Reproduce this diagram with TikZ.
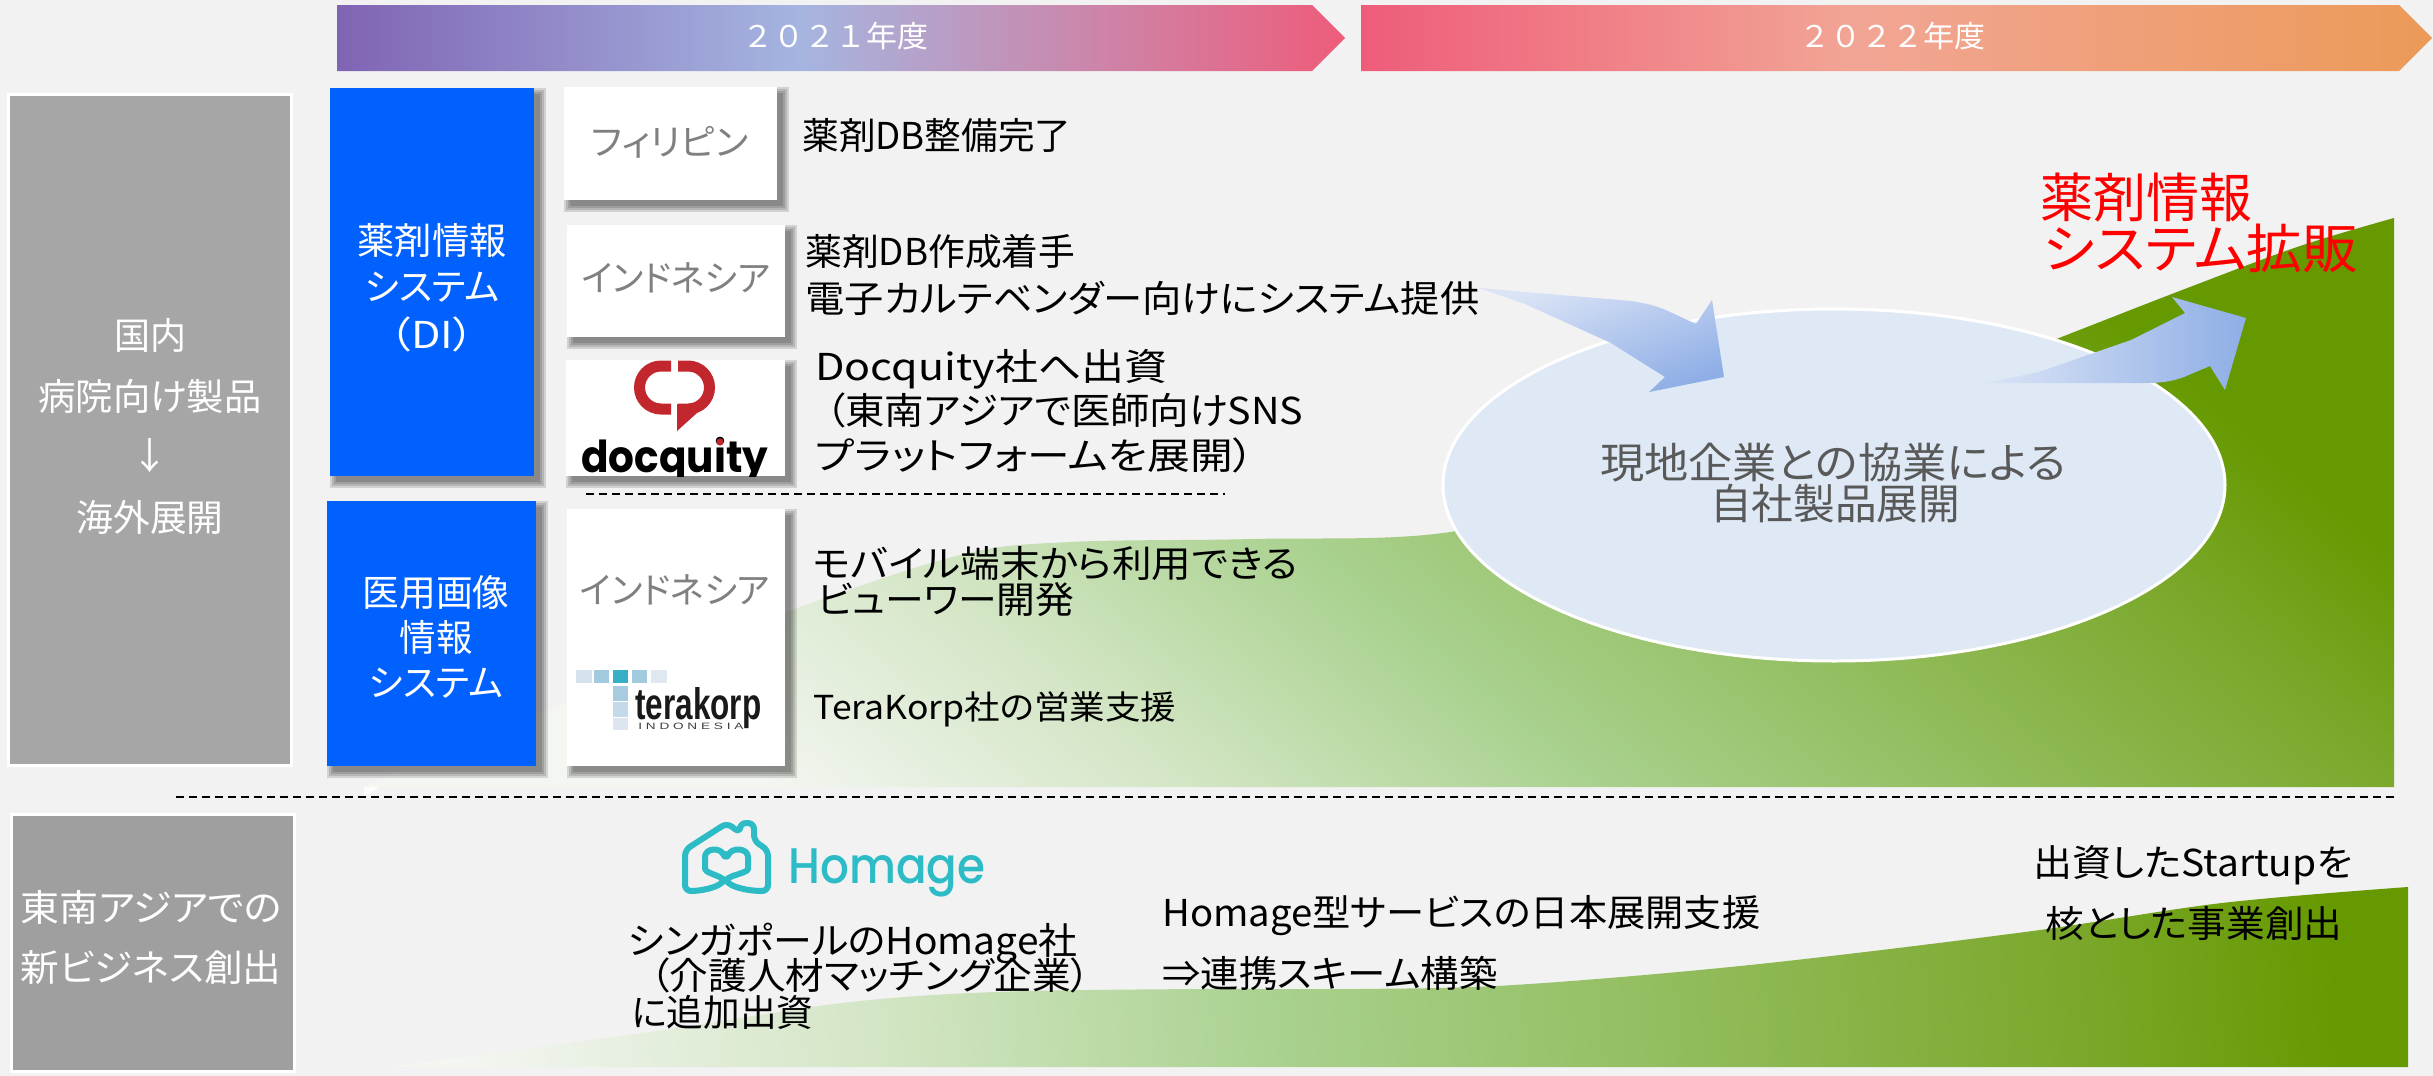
\documentclass[tikz,border=0pt]{standalone}
\usepackage{fontspec}
\usepackage{graphicx}
\usetikzlibrary{shapes.geometric}
\setmainfont{Noto Sans CJK JP}[RawFeature=+palt]
\newfontfamily\cjkfull{Noto Sans CJK JP}
\newfontfamily\popp{Poppins}[BoldFont={Poppins Bold}]
\newfontfamily\poppm{Poppins Medium}
\newfontfamily\libs{Liberation Sans}
\newlength\pxu
\setlength\pxu{0.5pt}
\newcommand\fw[2]{\resizebox{#1\pxu}{\height}{\rule[-.3em]{0pt}{1.36em}#2}}
\newcommand\softshadow[4]{%
  \foreach \g in {6,4,2,0}{\fill[black,opacity=.13] ({#1+6-\g},{#2+6-\g}) rectangle ({#3+6+\g},{#4+6+\g});}}
\definecolor{bgc}{HTML}{F2F2F2}
\definecolor{blueb}{HTML}{0061FF}
\definecolor{greyb}{HTML}{A6A6A6}
\definecolor{ellc}{HTML}{DEE9F5}
\definecolor{homc}{HTML}{2DBBC6}
\definecolor{docr}{HTML}{C1272D}
\definecolor{g0}{HTML}{F4F6F2}
\definecolor{g1}{HTML}{D4E6C6}
\definecolor{g2}{HTML}{A9D18E}
\definecolor{g25}{HTML}{7BA82B}
\definecolor{g3}{HTML}{669900}
\definecolor{p0}{HTML}{8064B4}
\definecolor{p1}{HTML}{A5B5E0}
\definecolor{p2}{HTML}{EE5C7A}
\definecolor{o0}{HTML}{EE5C7A}
\definecolor{o1}{HTML}{F2A595}
\definecolor{o2}{HTML}{EC9A58}
\definecolor{ar0}{HTML}{DBE4F6}
\definecolor{ar1}{HTML}{8EAEE6}
\definecolor{tk1}{HTML}{D6E3EF}
\definecolor{tk2}{HTML}{A3CBDF}
\definecolor{tk3}{HTML}{35B0C4}
\definecolor{tk4}{HTML}{DFE7F0}
\definecolor{tk5}{HTML}{A8CBE0}
\definecolor{tk6}{HTML}{C4D9EA}
\definecolor{tk7}{HTML}{DDE6F0}
\pgfdeclarehorizontalshading{greenramp}{100bp}{color(0bp)=(g0); color(25bp)=(g0); color(36bp)=(g1); color(47bp)=(g2); color(68bp)=(g25); color(75bp)=(g3); color(100bp)=(g3)}
\pgfdeclarehorizontalshading{purpleramp}{100bp}{color(0bp)=(p0); color(25bp)=(p0); color(48bp)=(p1); color(75bp)=(p2); color(100bp)=(p2)}
\pgfdeclarehorizontalshading{orangeramp}{100bp}{color(0bp)=(o0); color(25bp)=(o0); color(48bp)=(o1); color(75bp)=(o2); color(100bp)=(o2)}
\tikzset{
  lab/.style={inner sep=0pt,font=\fontsize{#1}{#1}\selectfont},
  blk/.style={lab=18.5,text=black,anchor=west},
  wht/.style={lab=18.5,text=white},
  gry/.style={lab=18,text=black!50},
  dash line/.style={line width=1pt,dash pattern=on 4pt off 2.5pt},
  homage line/.style={draw=homc,line width=3pt,line join=round,line cap=round},
}
\begin{document}
\begin{tikzpicture}[x=0.5pt,y=-0.5pt]
\useasboundingbox (0,0) rectangle (2433,1076);
\fill[bgc] (0,0) rectangle (2433,1076);
% green growth areas
\path[shading=greenramp,shading angle=50]
  plot[smooth,tension=.55] coordinates {(364,787) (439,752) (600,690) (784,613) (960,555) (1070,542) (1253,539) (1450,532) (1640,480) (1850,420) (2059,338) (2190,287) (2300,246) (2394,218)}
  -- (2394,787) -- cycle;
\fill[white,opacity=.8] (364,787) -- (380,787) -- (364,797) -- cycle;
\path[shading=greenramp,shading angle=5]
  plot[smooth,tension=.55] coordinates {(379,1068) (650,1032) (842,1003) (995,992) (1200,989) (1357,989) (1514,985) (1750,965) (2025,932) (2222,903) (2408,887)}
  -- (2408,1067) -- (379,1067) -- cycle;
% year bars
\path[shading=purpleramp] (337,5) -- (1312,5) -- (1345,38) -- (1312,71) -- (337,71) -- cycle;
\path[shading=orangeramp] (1361,5) -- (2399,5) -- (2432,38) -- (2399,71) -- (1361,71) -- cycle;
\node[lab=15,text=white] (y21) at (835,36) {\cjkfull\fw{186}{２０２１年度}};
\node[lab=15,text=white] (y22) at (1892,36) {\cjkfull\fw{186}{２０２２年度}};
% side panels
\fill[greyb,draw=white,line width=1.5pt] (8,94) rectangle (291,765);
\fill[greyb!96!black,draw=white,line width=1.5pt] (11,814) rectangle (294,1071);
\node[wht] (s1) at (150,335) {\fw{72}{国内}};
\node[wht] (s2) at (150,396) {\fw{223}{病院向け製品}};
\node[wht] (s3) at (150,456) {↓};
\node[wht] (s4) at (150,517) {\fw{147}{海外展開}};
\node[wht] (t1) at (151,907) {\fw{261}{東南アジアでの}};
\node[wht] (t2) at (151,967) {\fw{261}{新ビジネス創出}};
% blue panels
\softshadow{330}{88}{534}{476}
\fill[blueb] (330,88) rectangle (534,476);
\softshadow{327}{501}{536}{766}
\fill[blueb] (327,501) rectangle (536,766);
\node[wht] (b1) at (432,240) {\fw{149}{薬剤情報}};
\node[wht] (b2) at (432,286) {\fw{135}{システム}};
\node[wht] (b3) at (432,334) {\fw{85}{（DI）}};
\node[wht] (c1) at (436,592) {\fw{147}{医用画像}};
\node[wht] (c2) at (436,637) {\fw{73}{情報}};
\node[wht] (c3) at (436,682) {\fw{134}{システム}};
% white panels
\softshadow{564}{87}{777}{200}
\fill[white] (564,87) rectangle (777,200);
\softshadow{567}{225}{785}{337}
\fill[white] (567,225) rectangle (785,337);
\softshadow{566}{360}{785}{476}
\fill[white] (566,360) rectangle (785,476);
\softshadow{567}{509}{785}{766}
\fill[white] (567,509) rectangle (785,766);
\node[gry] (w1) at (670,142) {\fw{157}{フィリピン}};
\node[gry] (w2) at (676,278) {\fw{189}{インドネシア}};
\node[gry] (w3) at (675,590) {\fw{190}{インドネシア}};
% docquity logo
\begin{scope}
\clip (566,360) rectangle (785,476);
\draw[docr,line width=5.5pt] (671,366) -- (661,366) arc[start angle=-90,end angle=-270,radius=21.5] -- (671,409);
\draw[docr,line width=5.5pt] (678,366) -- (688,366) arc[start angle=-90,end angle=90,radius=21.5] -- (678,409);
\fill[docr] (677,404) -- (677,431) -- (697,413) -- cycle;
\node[lab=22,anchor=base west,text=black] (dq) at (581,472) {\resizebox{187\pxu}{\height}{\popp\bfseries docquity}};
\fill[docr] (720,442) circle[radius=3.6];
\end{scope}
% terakorp logo
\fill[tk1] (576,670) rectangle (592,683);
\fill[tk2] (594,670) rectangle (609,683);
\fill[tk3] (613,670) rectangle (628,683);
\fill[tk2] (632,670) rectangle (647,683);
\fill[tk4] (651,670) rectangle (667,683);
\fill[tk5] (613,686) rectangle (628,701);
\fill[tk6] (613,702) rectangle (628,717);
\fill[tk7] (613,718) rectangle (628,730);
\node[inner sep=0pt,anchor=base west,text=black!90,font=\fontsize{14}{14}\selectfont] (tk) at (635,719) {\resizebox{126\pxu}{32\pxu}{\libs\bfseries terakorp}};
\node[inner sep=0pt,anchor=base west,text=black!75,font=\fontsize{4.6}{5}\selectfont] (tk2n) at (638,729) {\resizebox{105\pxu}{\height}{\libs I N D O N E S I A}};
% homage logo
\draw[homage line,rounded corners=3pt] (726,860) .. controls (720,847) and (705,848) .. (705,863) .. controls (705,872) and (716,875) .. (725,880) .. controls (735,888) and (750,891) .. (768,891) -- (768,850) -- (754,841) -- (754,823) -- (740,823) -- (740,833) -- (727,823) -- (685,850) -- (685,891) .. controls (700,891) and (715,888) .. (725,880) .. controls (734,875) and (748,872) .. (748,863) .. controls (748,848) and (732,847) .. (726,860) -- cycle;
\node[inner sep=0pt,anchor=base west,text=homc,font=\fontsize{25}{25}\selectfont] (hm) at (788,883) {\resizebox{197\pxu}{\height}{\poppm Homage}};
% dashed separators
\coordinate (d1a) at (586,494); \coordinate (d1b) at (1225,494);
\coordinate (d2a) at (176,797); \coordinate (d2b) at (2395,797);
\draw[dash line] (d1a) -- (d1b);
\draw[dash line] (d2a) -- (d2b);
% ellipse and arrows
\node[draw=white,line width=1.5pt,fill=ellc,ellipse,minimum width=391pt,minimum height=176pt,inner sep=0pt] (el) at (1834,485) {};
\node[lab=21,text=black!65] (e1) at (1833,463) {\fw{466}{現地企業との協業による}};
\node[lab=21,text=black!65] (e2) at (1835,504) {\fw{250}{自社製品展開}};
\shade[left color=ar0,right color=ar1,shading angle=20] (1479,288) -- (1631,301) .. controls (1650,304) and (1660,307) .. (1670,312) -- (1696,324) -- (1712,300) -- (1724,377) -- (1649,392) -- (1665,377) -- (1611,343) -- (1525,304) -- cycle;
\shade[left color=ar0,right color=ar1] (1986,383) -- (2039,372) -- (2131,340) -- (2185,313) -- (2172,297) -- (2246,318) -- (2225,390) -- (2210,366) -- (2184,377) .. controls (2170,382) and (2160,383) .. (2144,383) -- cycle;
% body text
\node[blk] (n1) at (802,135) {\fw{269}{薬剤DB整備完了}};
\node[blk] (n2) at (805,251) {\fw{270}{薬剤DB作成着手}};
\node[blk] (n3) at (805,298) {\fw{674}{電子カルテベンダー向けにシステム提供}};
\node[blk] (n4) at (815,366) {\fw{352}{Docquity社へ出資}};
\node[blk] (n5) at (825,410) {\fw{478}{（東南アジアで医師向けSNS}};
\node[blk] (n6) at (815,455) {\fw{439}{プラットフォームを展開）}};
\node[blk] (n7) at (813,563) {\fw{484}{モバイル端末から利用できる}};
\node[blk] (n8) at (817,599) {\fw{257}{ビューワー開発}};
\node[blk,lab=16.5] (n9) at (813,707) {\fw{363}{TeraKorp社の営業支援}};
\node[blk] (m1) at (628,940) {\fw{449}{シンガポールのHomage社}};
\node[blk] (m2) at (650,975) {\fw{440}{（介護人材マッチング企業）}};
\node[blk] (m3) at (631,1012) {\fw{182}{に追加出資}};
\node[blk] (m4) at (1162,912) {\fw{598}{Homage型サービスの日本展開支援}};
\node[blk] (m5) at (1162,973) {\fw{335}{⇒連携スキーム構築}};
\node[blk] (m6) at (2033,862) {\fw{319}{出資したStartupを}};
\node[blk] (m7) at (2045,923) {\fw{297}{核とした事業創出}};
\node[lab=26.5,text=red,anchor=west] (r1) at (2040,197) {\fw{212}{薬剤情報}};
\node[lab=26.5,text=red,anchor=west] (r2) at (2043,248) {\fw{315}{システム拡販}};
\end{tikzpicture}
\end{document}
